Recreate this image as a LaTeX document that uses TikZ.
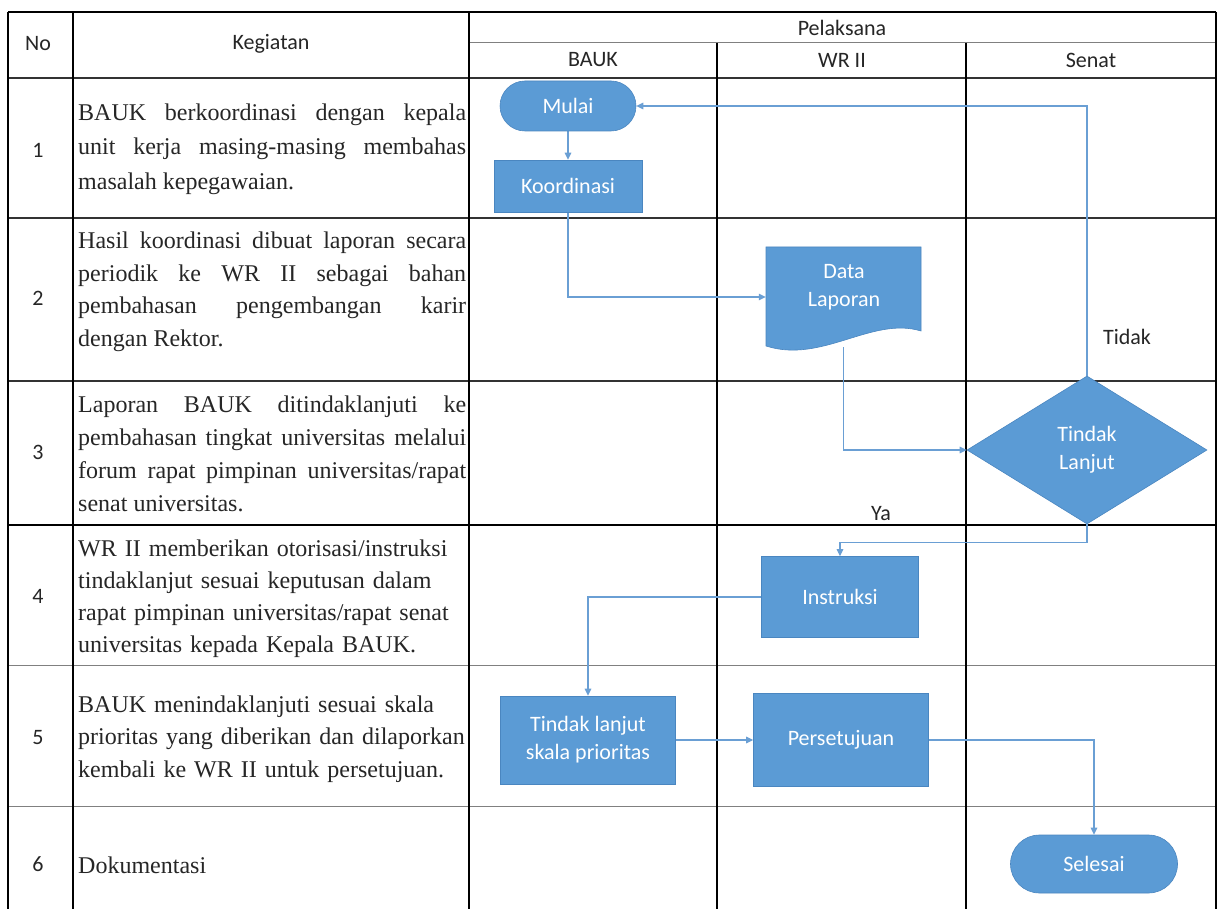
\documentclass[tikz,border=0pt]{standalone}
\usepackage{fontspec}
\setmainfont{Liberation Serif}
\newfontfamily\carlito{Carlito}
\usetikzlibrary{shapes.geometric,arrows.meta,backgrounds}
\definecolor{boxblue}{HTML}{5B9BD5}
\definecolor{boxedge}{HTML}{4A86C0}
\definecolor{flow}{HTML}{6A9FD4}
\tikzset{
  box/.style={rectangle, fill=boxblue, draw=boxedge, line width=0.6pt, text=white,
    font=\carlito\fontsize{22}{28}\selectfont, align=center, inner sep=0pt},
  flowline/.style={draw=flow, line width=1.1pt, -{Triangle[length=7pt,width=6.5pt]}},
  hdr/.style={font=\carlito\fontsize{22}{26}\selectfont, text=black!85, inner sep=0pt},
  cell/.style={anchor=west, text width=388pt, align=justify, inner sep=0pt, text=black!85},
  grid/.style={draw=black, line width=1.3pt},
  rowline/.style={draw=black!80, line width=1.1pt},
  thinrow/.style={draw=black!50, line width=1pt}
}
\begin{document}
\begin{tikzpicture}[x=1pt,y=-1pt]
\useasboundingbox (0,0) rectangle (1221,909);

% header texts
\node[hdr] (hno)  at (38,44)   {No};
\node[hdr] (hkeg) at (271,44)  {Kegiatan};
\node[hdr] (hpel) at (842,28)  {Pelaksana};
\node[hdr] (hbauk) at (593,60) {BAUK};
\node[hdr] (hwr)  at (842,60)  {WR II};
\node[hdr] (hsen) at (1091,60) {Senat};

% row numbers
\node[hdr] (n1) at (38,150) {1};
\node[hdr] (n2) at (38,298) {2};
\node[hdr] (n3) at (38,452) {3};
\node[hdr] (n4) at (38,596) {4};
\node[hdr] (n5) at (38,738) {5};
\node[hdr] (n6) at (38,864) {6};

% activity descriptions
\node[cell, font=\fontsize{24}{34.5}\selectfont] (k1) at (78,149)
  {BAUK berkoordinasi dengan kepala\linebreak unit kerja masing-masing membahas\linebreak masalah kepegawaian.};
\node[cell, font=\fontsize{24}{32.5}\selectfont] (k2) at (78,292)
  {Hasil koordinasi dibuat laporan secara\linebreak periodik ke WR II sebagai bahan\linebreak pembahasan pengembangan karir\linebreak dengan Rektor.};
\node[cell, font=\fontsize{24}{33}\selectfont] (k3) at (78,454)
  {Laporan BAUK ditindaklanjuti ke\linebreak pembahasan tingkat universitas melalui\linebreak forum rapat pimpinan universitas/rapat\linebreak senat universitas.};
\node[cell, align=left, font=\fontsize{24}{32}\selectfont] (k4) at (78,599)
  {WR II memberikan otorisasi/instruksi\\ tindaklanjut sesuai keputusan dalam\\ rapat pimpinan universitas/rapat senat\\ universitas kepada Kepala BAUK.};
\node[cell, align=left, font=\fontsize{24}{32.5}\selectfont] (k5) at (78,739)
  {BAUK menindaklanjuti sesuai skala\\ prioritas yang diberikan dan dilaporkan\\ kembali ke WR II untuk persetujuan.};
\node[cell, align=left, font=\fontsize{24}{32}\selectfont] (k6) at (78,865)
  {Dokumentasi};

% flowchart shapes
\node[box, rounded corners=25pt, minimum width=136pt, minimum height=50pt] (mulai) at (568,106) {Mulai};
\node[box, minimum width=148pt, minimum height=52pt] (koor) at (568,186) {Koordinasi};

\path[fill=boxblue, draw=boxedge, line width=0.6pt]
  (766,247) -- (921,247) -- (921,331) .. controls (872,316) and (822,364) .. (766,346) -- cycle;
\node[minimum width=155pt, minimum height=100pt, inner sep=0pt] (data) at (843.5,297) {};
\node[text=white, font=\carlito\fontsize{22}{28}\selectfont, align=center, inner sep=0pt] (datatxt) at (844,287) {Data\\Laporan};

\node[box, diamond, minimum width=240pt, minimum height=148pt] (dia) at (1087,450) {Tindak\\Lanjut};
\node[box, minimum width=157pt, minimum height=81pt] (instr) at (840,597) {Instruksi};
\node[box, minimum width=175pt, minimum height=88pt] (tl) at (588,740) {Tindak lanjut\\skala prioritas};
\node[box, minimum width=175pt, minimum height=93pt] (pers) at (841,740) {Persetujuan};
\node[box, rounded corners=29pt, minimum width=167pt, minimum height=58pt] (sel) at (1094,864) {Selesai};

% branch labels
\node[hdr] (ltidak) at (1127,337) {Tidak};
\node[hdr] (lya) at (881,514) {Ya};

\begin{pgfonlayer}{background}
  \fill[white] (0,0) rectangle (1221,909);
  % table grid
  \draw[grid] (8,12) -- (1216,12);
  \draw[thinrow] (469,43) -- (1216,43);
  \draw[rowline] (8,78) -- (1216,78);
  \draw[rowline] (8,218) -- (1216,218);
  \draw[rowline] (8,381) -- (1216,381);
  \draw[grid] (8,525) -- (1216,525);
  \draw[thinrow] (8,665) -- (1216,665);
  \draw[thinrow] (8,806) -- (1216,806);
  \draw[grid] (8,12) -- (8,909);
  \draw[grid] (73,12) -- (73,909);
  \draw[grid] (469,12) -- (469,909);
  \draw[grid] (1216,12) -- (1216,909);
  \draw[grid] (717,43) -- (717,909);
  \draw[grid] (966,43) -- (966,909);
  % connectors
  \draw[flowline] (mulai) -- (koor);
  \draw[flowline] (dia.north) |- (mulai.east);
  \draw[flowline] (koor.south) |- (data.west);
  \draw[flowline] (data.south) |- (dia.west);
  \draw[flowline] (dia.south) -- ++(0,18) -| (instr.north);
  \draw[flowline] (instr.west) -| (tl.north);
  \draw[flowline] (tl.east) -- (pers.west);
  \draw[flowline] (pers.east) -| (sel.north);
\end{pgfonlayer}
\end{tikzpicture}
\end{document}
